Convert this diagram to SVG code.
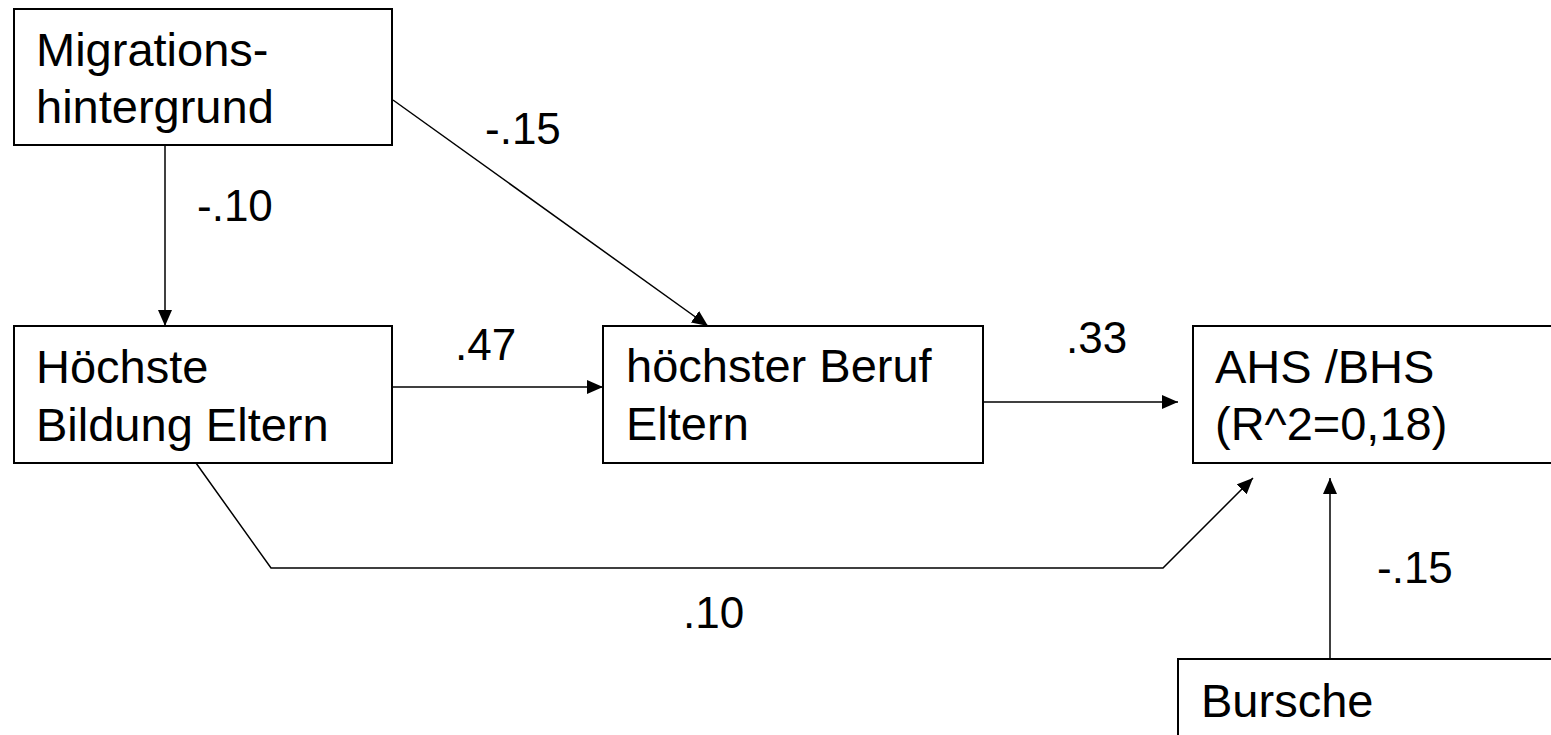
<svg xmlns="http://www.w3.org/2000/svg" width="1551" height="735" viewBox="0 0 1551 735">
  <style>
    .box { fill: #ffffff; stroke: #000000; stroke-width: 2; }
    .txt { font-family: "Liberation Sans", Arial, sans-serif; font-size: 47px; fill: #000000; }
    .lbl { font-family: "Liberation Sans", Arial, sans-serif; font-size: 44px; fill: #000000; }
    .edge { fill: none; stroke: #000000; stroke-width: 1.5; }
  </style>
  <defs>
    <marker id="arrow" markerUnits="userSpaceOnUse" markerWidth="16" markerHeight="14" refX="16" refY="7" orient="auto">
      <path d="M0,0 L16,7 L0,14 Z" fill="#000000"/>
    </marker>
  </defs>
  <rect width="1551" height="735" fill="#ffffff"/>

  <g id="connectors">
    <line class="edge" x1="165" y1="146" x2="165" y2="326" marker-end="url(#arrow)"/>
    <line class="edge" x1="393" y1="100" x2="708" y2="326" marker-end="url(#arrow)"/>
    <line class="edge" x1="392" y1="387" x2="603" y2="387" marker-end="url(#arrow)"/>
    <line class="edge" x1="983" y1="402" x2="1178" y2="402" marker-end="url(#arrow)"/>
    <polyline class="edge" points="196,463 271,568 1163,568 1253,478" marker-end="url(#arrow)"/>
    <line class="edge" x1="1330" y1="659" x2="1330" y2="478" marker-end="url(#arrow)"/>
  </g>

  <g id="labels">
    <text class="lbl" x="197" y="221">-.10</text>
    <text class="lbl" x="485" y="144">-.15</text>
    <text class="lbl" x="455" y="360">.47</text>
    <text class="lbl" x="1066" y="353">.33</text>
    <text class="lbl" x="683" y="628">.10</text>
    <text class="lbl" x="1377" y="583">-.15</text>
  </g>

  <g id="node-migration">
    <rect class="box" x="14" y="9" width="378" height="136"/>
    <text class="txt" x="36" y="66">Migrations-</text>
    <text class="txt" x="36" y="123">hintergrund</text>
  </g>

  <g id="node-bildung">
    <rect class="box" x="14" y="326" width="378" height="137"/>
    <text class="txt" x="36" y="383">Höchste</text>
    <text class="txt" x="36" y="441">Bildung Eltern</text>
  </g>

  <g id="node-beruf">
    <rect class="box" x="603" y="326" width="380" height="137"/>
    <text class="txt" x="626" y="382">höchster Beruf</text>
    <text class="txt" x="626" y="440">Eltern</text>
  </g>

  <g id="node-ahs">
    <rect class="box" x="1193" y="326" width="370" height="137"/>
    <text class="txt" x="1215" y="383">AHS /BHS</text>
    <text class="txt" x="1215" y="440">(R^2=0,18)</text>
  </g>

  <g id="node-bursche">
    <rect class="box" x="1178" y="659" width="385" height="90"/>
    <text class="txt" x="1201" y="717">Bursche</text>
  </g>
</svg>
